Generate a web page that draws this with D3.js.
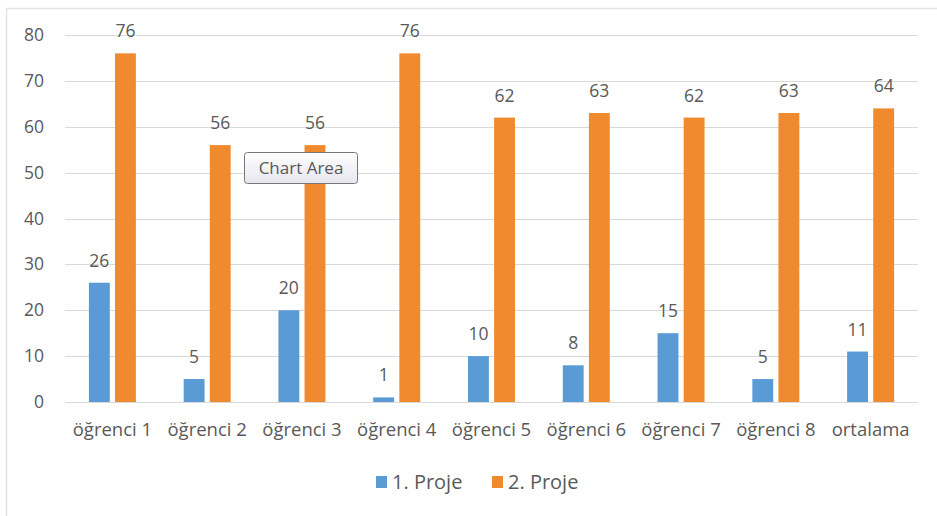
<!DOCTYPE html>
<html>
<head>
<meta charset="utf-8">
<script src="https://cdn.jsdelivr.net/npm/d3@7"></script>
<style>
  html, body { margin: 0; padding: 0; background: #fff; }
  svg { display: block; }
  text { font-family: "Open Sans", "Noto Sans", sans-serif; fill: #595959; }
</style>
</head>
<body>
<svg id="chart" width="937" height="516"></svg>
<script>
const categories = ["öğrenci 1", "öğrenci 2", "öğrenci 3", "öğrenci 4", "öğrenci 5", "öğrenci 6", "öğrenci 7", "öğrenci 8", "ortalama"];
const seriesNames = ["1. Proje", "2. Proje"];
const proje1 = [26, 5, 20, 1, 10, 8, 15, 5, 11];
const proje2 = [76, 56, 56, 76, 62, 63, 62, 63, 64];
const yTicks = [0, 10, 20, 30, 40, 50, 60, 70, 80];
const colors = ["#5B9BD5", "#F08A2E"];

const svg = d3.select("#chart");
const W = 937, H = 516;
const plot = { left: 65, right: 918, top: 35, bottom: 402 };

// outer frame (left and top edges visible)
svg.append("line").attr("x1", 6.5).attr("x2", 6.5).attr("y1", 8).attr("y2", H)
  .attr("stroke", "#e3e3e3").attr("stroke-width", 1.5);
svg.append("line").attr("x1", 6).attr("x2", W).attr("y1", 8.5).attr("y2", 8.5)
  .attr("stroke", "#e3e3e3").attr("stroke-width", 1.5);

const x0 = d3.scaleBand().domain(categories).range([plot.left, plot.right]).padding(0);
const x1 = d3.scaleBand().domain(seriesNames)
  .range([x0.bandwidth() / 2 - 23.5, x0.bandwidth() / 2 + 23.5]).paddingInner(0.2);
const y = d3.scaleLinear().domain([0, 80]).range([plot.bottom, plot.top]);

// gridlines
svg.append("g").selectAll("line").data(yTicks).join("line")
  .attr("x1", plot.left).attr("x2", plot.right)
  .attr("y1", d => Math.round(y(d)) + 0.5).attr("y2", d => Math.round(y(d)) + 0.5)
  .attr("stroke", "#d9d9d9").attr("stroke-width", 1);

// y axis labels
const yAxis = d3.axisLeft(y).tickValues(yTicks).tickSize(0).tickPadding(0);
const gy = svg.append("g").attr("transform", `translate(${plot.left - 21},0)`).call(yAxis);
gy.select(".domain").remove();
gy.selectAll("text").attr("font-size", 17.5).attr("fill", "#595959")
  .attr("font-family", '"Open Sans", sans-serif');

// x axis labels
const xAxis = d3.axisBottom(x0).tickSize(0).tickPadding(0);
const gx = svg.append("g").attr("transform", `translate(0,${plot.bottom + 21})`).call(xAxis);
gx.select(".domain").remove();
gx.selectAll("text").attr("font-size", 18.5).attr("fill", "#595959")
  .attr("font-family", '"Open Sans", sans-serif');

const rows = categories.map((c, i) => ({ cat: c, vals: [proje1[i], proje2[i]] }));

const groups = svg.append("g").selectAll("g").data(rows).join("g")
  .attr("transform", d => `translate(${x0(d.cat)},0)`);

groups.selectAll("rect").data(d => d.vals.map((v, j) => ({ s: seriesNames[j], v, j })))
  .join("rect")
  .attr("x", d => x1(d.s))
  .attr("width", x1.bandwidth())
  .attr("y", d => y(d.v))
  .attr("height", d => y(0) - y(d.v))
  .attr("fill", d => colors[d.j]);

groups.selectAll("text.lbl").data(d => d.vals.map((v, j) => ({ s: seriesNames[j], v, j })))
  .join("text").attr("class", "lbl")
  .attr("x", d => x1(d.s) + x1.bandwidth() / 2)
  .attr("y", d => y(d.v) - 16)
  .attr("text-anchor", "middle")
  .attr("font-size", 17.5)
  .text(d => d.v);

// legend
const legend = svg.append("g").attr("transform", "translate(376,476)");
const legX = [0, 116];
seriesNames.forEach((name, j) => {
  const g = legend.append("g").attr("transform", `translate(${legX[j]},0)`);
  g.append("rect").attr("width", 11).attr("height", 12).attr("fill", colors[j]);
  g.append("text").attr("x", 16).attr("y", 13).attr("font-size", 20).text(name);
});

// "Chart Area" tooltip
const grad = svg.append("defs").append("linearGradient").attr("id", "tipg")
  .attr("x1", 0).attr("x2", 0).attr("y1", 0).attr("y2", 1);
grad.append("stop").attr("offset", "0%").attr("stop-color", "#ffffff");
grad.append("stop").attr("offset", "100%").attr("stop-color", "#e6e6ee");
const tip = svg.append("g").attr("transform", "translate(244.5,152.5)");
tip.append("rect").attr("width", 113).attr("height", 31).attr("rx", 3)
  .attr("fill", "url(#tipg)").attr("stroke", "#767676").attr("stroke-width", 1);
tip.append("text").attr("x", 56.5).attr("y", 21.5).attr("text-anchor", "middle")
  .attr("font-size", 17).attr("fill", "#575757").text("Chart Area");
</script>
</body>
</html>
